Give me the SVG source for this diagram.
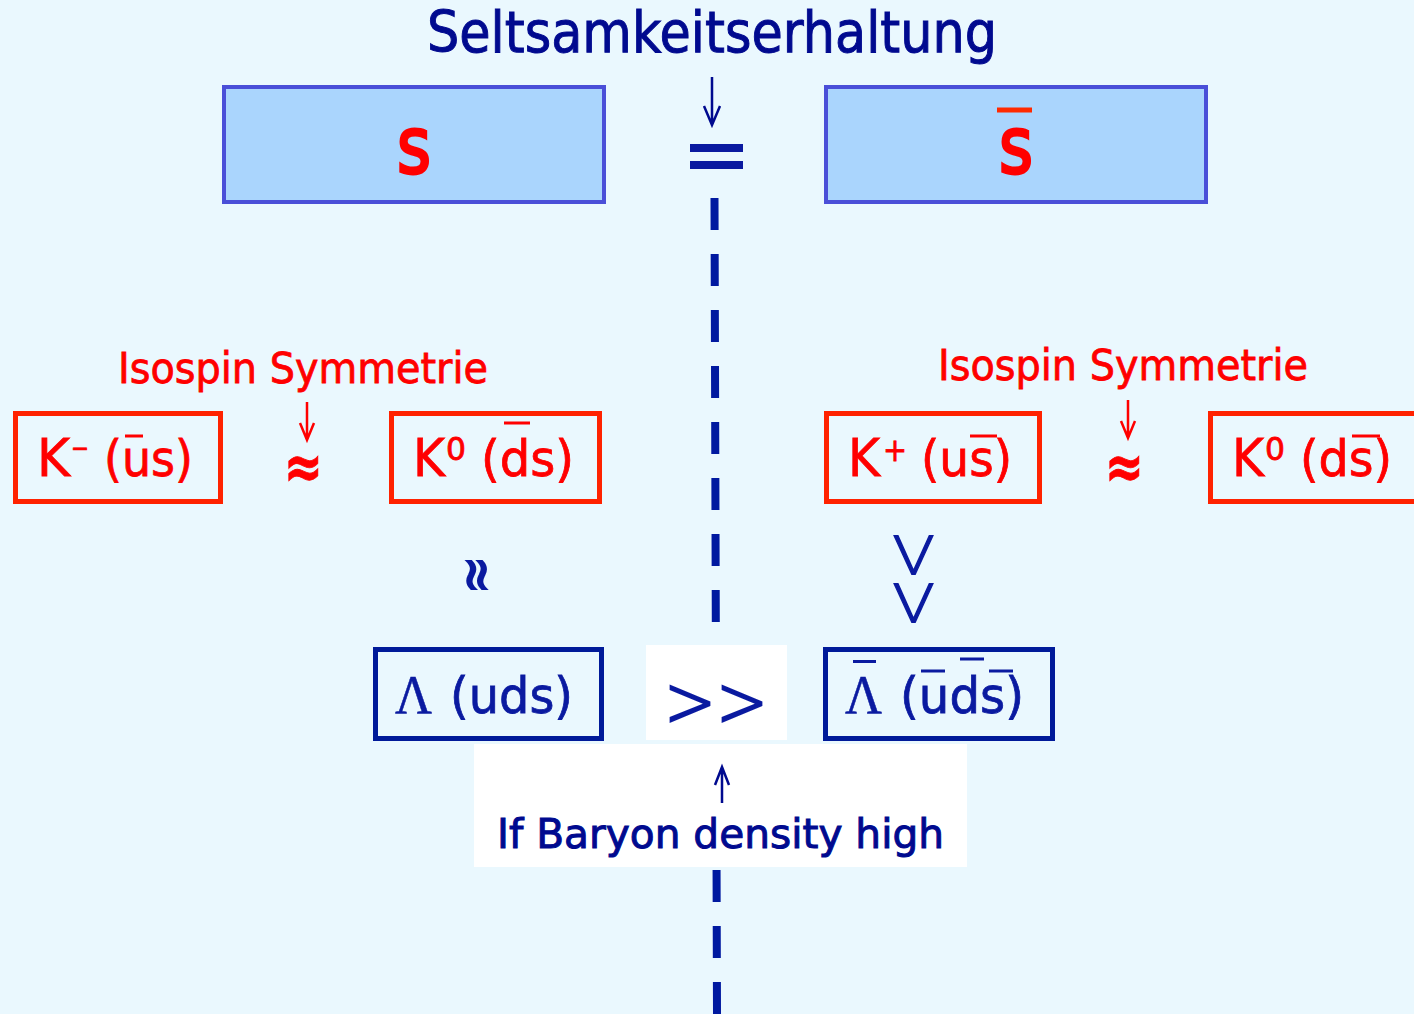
<svg xmlns="http://www.w3.org/2000/svg" width="1414" height="1014" viewBox="0 0 1414 1014">
<style>
  text { font-family: "DejaVu Sans", "Liberation Sans", sans-serif; }
  .bg { fill: #EAF8FE; }
  .topbox { fill: #AAD5FD; stroke: #4A4FD8; stroke-width: 4; }
  .redbox { fill: none; stroke: #FF2200; stroke-width: 5; }
  .bluebox { fill: none; stroke: #001A99; stroke-width: 5; }
  .white { fill: #FFFFFF; }
  .red { fill: #FF0000; stroke: #FF0000; stroke-width: 0.8; }
  .navy { fill: #000A8F; stroke: #000A8F; stroke-width: 1; }
  .dblue { fill: #0A1AA0; stroke: #0A1AA0; stroke-width: 0.8; }
  .thin { stroke-width: 1.4; font-weight: 200; }
  .rbar { stroke: #FF0000; stroke-width: 3; }
  .bbar { stroke: #0A1AA0; stroke-width: 3; }
  .serif { font-family: "Liberation Serif", "DejaVu Serif", serif; stroke-width: 0.5; }
</style>
<rect class="bg" x="0" y="0" width="1414" height="1014"/>

<g id="connectors">
  <line x1="714.5" y1="198" x2="717" y2="1014" stroke="#0019A0" stroke-width="8" stroke-dasharray="32 24"/>
  <path d="M712 77 V124 M704 106 L712 125 L720 106" fill="none" stroke="#000A8F" stroke-width="2.5"/>
  <path d="M307 402 V439 M300 423 L307 440 L314 423" fill="none" stroke="#FF0000" stroke-width="2.5"/>
  <path d="M1128 400 V437 M1121 421 L1128 438 L1135 421" fill="none" stroke="#FF0000" stroke-width="2.5"/>
</g>

<g id="title">
  <text class="navy" x="427" y="52" font-size="57" textLength="570" lengthAdjust="spacingAndGlyphs">Seltsamkeitserhaltung</text>
</g>

<g id="node-s">
  <rect class="topbox" x="224" y="87" width="380" height="115"/>
  <text class="red" x="414" y="173" font-size="78" text-anchor="middle" textLength="34" lengthAdjust="spacingAndGlyphs" style="stroke-width:3">s</text>
</g>

<g id="equals">
  <rect x="690" y="144" width="53" height="8" fill="#0A1AA0"/>
  <rect x="690" y="161" width="53" height="8" fill="#0A1AA0"/>
</g>

<g id="node-sbar">
  <rect class="topbox" x="826" y="87" width="380" height="115"/>
  <text class="red" x="1016" y="173" font-size="78" text-anchor="middle" textLength="34" lengthAdjust="spacingAndGlyphs" style="stroke-width:3">s</text>
  <line x1="997" y1="110" x2="1032" y2="110" stroke="#FF2A00" stroke-width="5"/>
</g>

<g id="isospin-left">
  <text class="red" x="118" y="383" font-size="42" textLength="370" lengthAdjust="spacingAndGlyphs">Isospin Symmetrie</text>
  <text class="red" x="284" y="488" font-size="62" font-weight="bold" textLength="39" lengthAdjust="spacingAndGlyphs">≈</text>
</g>

<g id="isospin-right">
  <text class="red" x="938" y="380" font-size="42" textLength="370" lengthAdjust="spacingAndGlyphs">Isospin Symmetrie</text>
  <text class="red" x="1105" y="488" font-size="62" font-weight="bold" textLength="39" lengthAdjust="spacingAndGlyphs">≈</text>
</g>

<g id="node-kminus">
  <rect class="redbox" x="15.5" y="413.5" width="205" height="88"/>
  <text class="red" x="37" y="476" font-size="52" textLength="33" lengthAdjust="spacingAndGlyphs">K</text>
  <text class="red" x="71" y="457" font-size="26" textLength="18" lengthAdjust="spacingAndGlyphs">−</text>
  <text class="red" x="104" y="476" font-size="50" textLength="89" lengthAdjust="spacingAndGlyphs">(us)</text>
  <line class="rbar" x1="125" y1="436" x2="143" y2="436"/>
</g>

<g id="node-k0-left">
  <rect class="redbox" x="391.5" y="413.5" width="208" height="88"/>
  <text class="red" x="413" y="476" font-size="52" textLength="32" lengthAdjust="spacingAndGlyphs">K</text>
  <text class="red" x="446" y="460" font-size="32" textLength="20" lengthAdjust="spacingAndGlyphs">0</text>
  <text class="red" x="481" y="476" font-size="50" textLength="93" lengthAdjust="spacingAndGlyphs">(ds)</text>
  <line class="rbar" x1="504" y1="423" x2="530" y2="423"/>
</g>

<g id="node-kplus">
  <rect class="redbox" x="826.5" y="413.5" width="213" height="88"/>
  <text class="red" x="848" y="476" font-size="52" textLength="32" lengthAdjust="spacingAndGlyphs">K</text>
  <text class="red" x="883" y="461" font-size="32" textLength="24" lengthAdjust="spacingAndGlyphs">+</text>
  <text class="red" x="921" y="476" font-size="50" textLength="91" lengthAdjust="spacingAndGlyphs">(us)</text>
  <line class="rbar" x1="970" y1="436" x2="997" y2="436"/>
</g>

<g id="node-k0-right">
  <rect class="redbox" x="1210.5" y="413.5" width="210" height="88"/>
  <text class="red" x="1232" y="476" font-size="52" textLength="32" lengthAdjust="spacingAndGlyphs">K</text>
  <text class="red" x="1265" y="460" font-size="32" textLength="20" lengthAdjust="spacingAndGlyphs">0</text>
  <text class="red" x="1300" y="476" font-size="50" textLength="92" lengthAdjust="spacingAndGlyphs">(ds)</text>
  <line class="rbar" x1="1352" y1="436" x2="1380" y2="436"/>
</g>

<g id="approx-vertical">
  <text class="dblue" transform="translate(477,575) rotate(90)" x="-19" y="18" font-size="56" textLength="38" lengthAdjust="spacingAndGlyphs" style="stroke-width:1.8">≈</text>
</g>

<g id="greater-vertical">
  <text class="dblue thin" transform="translate(915,555) rotate(90)" x="-26" y="26" font-size="78" textLength="52" lengthAdjust="spacingAndGlyphs">&gt;</text>
  <text class="dblue thin" transform="translate(915,603) rotate(90)" x="-26" y="26" font-size="78" textLength="52" lengthAdjust="spacingAndGlyphs">&gt;</text>
</g>

<g id="node-lambda">
  <rect class="bluebox" x="375.5" y="649.5" width="226" height="89"/>
  <text class="dblue serif" x="395" y="713" font-size="54" textLength="37" lengthAdjust="spacingAndGlyphs">Λ</text>
  <text class="dblue" x="450" y="713" font-size="50" textLength="123" lengthAdjust="spacingAndGlyphs">(uds)</text>
</g>

<g id="node-much-greater">
  <rect class="white" x="646" y="645" width="141" height="95"/>
  <text class="dblue thin" x="664" y="726" font-size="72" textLength="104" lengthAdjust="spacingAndGlyphs" style="stroke-width:2.2">&gt;&gt;</text>
</g>

<g id="node-antilambda">
  <rect class="bluebox" x="825.5" y="649.5" width="227" height="89"/>
  <text class="dblue serif" x="845" y="713" font-size="54" textLength="37" lengthAdjust="spacingAndGlyphs">Λ</text>
  <line class="bbar" x1="853" y1="661.5" x2="876" y2="661.5"/>
  <text class="dblue" x="900" y="713" font-size="50" textLength="124" lengthAdjust="spacingAndGlyphs">(uds)</text>
  <line class="bbar" x1="921" y1="671" x2="945" y2="671"/>
  <line class="bbar" x1="960" y1="659" x2="984" y2="659"/>
  <line class="bbar" x1="989" y1="671" x2="1013" y2="671"/>
</g>

<g id="node-baryon">
  <rect class="white" x="474" y="744" width="493" height="123"/>
  <path d="M722 803 V768 M715 785 L722 767 L729 785" fill="none" stroke="#000A8F" stroke-width="2.5"/>
  <text class="navy" x="497" y="848" font-size="41" textLength="447" lengthAdjust="spacingAndGlyphs">If Baryon density high</text>
</g>
</svg>
